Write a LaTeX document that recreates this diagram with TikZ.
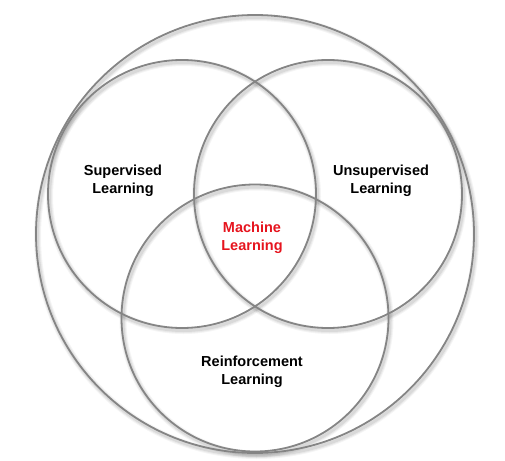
\documentclass[tikz,border=0pt]{standalone}
\usepackage{fontspec}
\setmainfont{Liberation Sans}
\definecolor{ringgray}{RGB}{133,133,133}
\definecolor{mlred}{RGB}{230,20,30}
\tikzset{
  ring/.style={circle, draw=ringgray, line width=1.8pt, inner sep=0pt},
  ringshadow/.style={circle, draw=black, inner sep=0pt},
  lbl/.style={align=center, font=\bfseries\fontsize{14.5}{18}\selectfont, text=black, inner sep=0pt},
}
\begin{document}
\begin{tikzpicture}[x=1pt,y=1pt]
  \useasboundingbox (0,0) rectangle (505,-460);
  % soft shadows
  \foreach \w/\o in {7/0.04,5/0.05,3/0.07}{
    \node[ringshadow, line width=\w pt, draw opacity=\o, minimum size=438pt] (so\w) at (256.5,-236.5) {};
    \node[ringshadow, line width=\w pt, draw opacity=\o, minimum size=268pt] (sl\w) at (183.5,-196.5) {};
    \node[ringshadow, line width=\w pt, draw opacity=\o, minimum size=268pt] (sr\w) at (329.5,-196.5) {};
    \node[ringshadow, line width=\w pt, draw opacity=\o, minimum size=267pt] (sb\w) at (256.5,-320.5) {};
  }
  % circles
  \node[ring, minimum size=438pt] (outer) at (255,-234) {};
  \node[ring, minimum size=268pt] (sup) at (182,-194) {};
  \node[ring, minimum size=268pt] (unsup) at (328,-194) {};
  \node[ring, minimum size=267pt] (reinf) at (255,-318) {};
  % labels
  \node[lbl] (tsup) at (123,-181) {Supervised\\Learning};
  \node[lbl] (tunsup) at (381,-181) {Unsupervised\\Learning};
  \node[lbl, text=mlred] (tml) at (252,-238) {Machine\\Learning};
  \node[lbl] (treinf) at (252,-371.5) {Reinforcement\\Learning};
\end{tikzpicture}
\end{document}
